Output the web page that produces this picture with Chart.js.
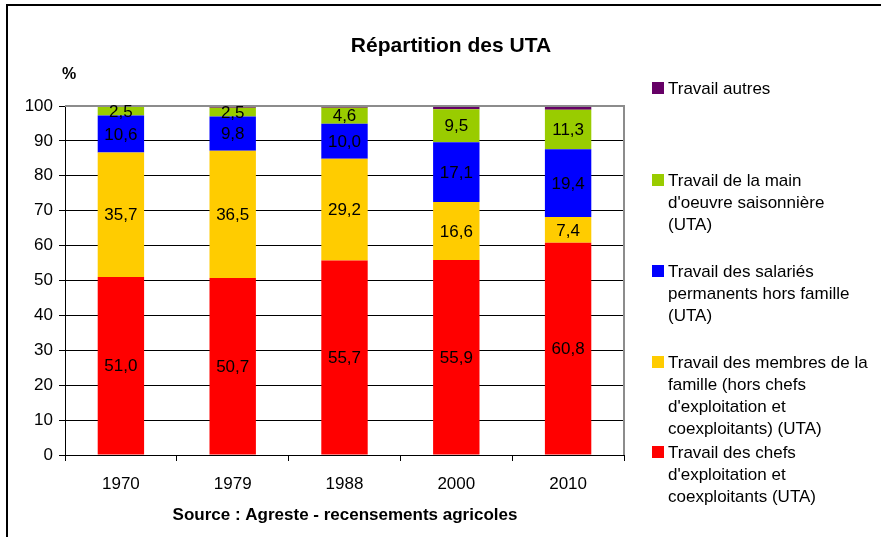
<!DOCTYPE html>
<html>
<head>
<meta charset="utf-8">
<script src="https://cdn.jsdelivr.net/npm/chart.js@4/dist/chart.umd.min.js"></script>
<style>
html,body{margin:0;padding:0;background:#fff;}
#wrap{position:relative;width:881px;height:537px;}
canvas{display:block;}
</style>
</head>
<body>
<div id="wrap"><canvas id="c" width="881" height="537"></canvas></div>
<script>
const years = ['1970', '1979', '1988', '2000', '2010'];
const chefs = [51.0, 50.7, 55.7, 55.9, 60.8];
const membres = [35.7, 36.5, 29.2, 16.6, 7.4];
const salaries = [10.6, 9.8, 10.0, 17.1, 19.4];
const saisonniers = [2.5, 2.5, 4.6, 9.5, 11.3];
const autres = [0.2, 0.5, 0.5, 0.9, 1.1];
const yTicks = [0, 10, 20, 30, 40, 50, 60, 70, 80, 90, 100];

const titleText = 'Répartition des UTA';
const unitText = '%';
const sourceText = 'Source : Agreste - recensements agricoles';

const nameChefs = ["Travail des chefs", "d'exploitation et", "coexploitants (UTA)"];
const nameMembres = ["Travail des membres de la", "famille (hors chefs", "d'exploitation et", "coexploitants) (UTA)"];
const nameSalaries = ["Travail des salariés", "permanents hors famille", "(UTA)"];
const nameSaison = ["Travail de la main", "d'oeuvre saisonnière", "(UTA)"];
const nameAutres = ["Travail autres"];

const FONT = "'Liberation Sans', Arial, sans-serif";

const datasets = [
  {label: nameChefs.join(' '), lines: nameChefs, data: chefs, backgroundColor: '#FF0000', showLabels: true},
  {label: nameMembres.join(' '), lines: nameMembres, data: membres, backgroundColor: '#FFCC00', showLabels: true},
  {label: nameSalaries.join(' '), lines: nameSalaries, data: salaries, backgroundColor: '#0000FF', showLabels: true},
  {label: nameSaison.join(' '), lines: nameSaison, data: saisonniers, backgroundColor: '#99CC00', showLabels: true},
  {label: nameAutres.join(' '), lines: nameAutres, data: autres, backgroundColor: '#660066', showLabels: false}
].map(d => Object.assign(d, {barPercentage: 0.415, categoryPercentage: 1.0, borderWidth: 0}));

// legend layout: first text line y for each dataset (index order)
const legendPos = {x: 652, textX: 668, lineH: 22, firstY: [452, 362, 271, 180, 88]};

const decor = {
  id: 'decor',
  beforeDraw(chart) {
    const ctx = chart.ctx;
    ctx.save();
    ctx.fillStyle = '#fff';
    ctx.fillRect(0, 0, chart.width, chart.height);
    ctx.strokeStyle = '#000';
    ctx.lineWidth = 2;
    ctx.beginPath();
    ctx.moveTo(7, 537);
    ctx.lineTo(7, 5);
    ctx.lineTo(881, 5);
    ctx.stroke();
    ctx.restore();
  },
  afterDatasetsDraw(chart) {
    const ctx = chart.ctx;
    const a = chart.chartArea;
    ctx.save();
    ctx.strokeStyle = '#8c8c8c';
    ctx.lineWidth = 2;
    ctx.beginPath();
    ctx.moveTo(a.left, a.top);
    ctx.lineTo(a.right, a.top);
    ctx.lineTo(a.right, a.bottom);
    ctx.stroke();
    ctx.fillStyle = '#000';
    ctx.font = '17px ' + FONT;
    ctx.textAlign = 'center';
    ctx.textBaseline = 'middle';
    chart.data.datasets.forEach((ds, i) => {
      if (!ds.showLabels) return;
      const meta = chart.getDatasetMeta(i);
      meta.data.forEach((bar, j) => {
        const v = ds.data[j];
        const yc = (bar.y + bar.base) / 2;
        ctx.fillText(v.toFixed(1).replace('.', ','), bar.x, yc + 1);
      });
    });
    ctx.font = 'bold 21px ' + FONT;
    ctx.fillText(titleText, 451, 46);
    ctx.font = 'bold 16px ' + FONT;
    ctx.fillText(unitText, 69, 75);
    ctx.font = 'bold 17px ' + FONT;
    ctx.fillText(sourceText, 345, 515);
    ctx.textAlign = 'left';
    ctx.font = '17px ' + FONT;
    chart.data.datasets.forEach((ds, i) => {
      const y0 = legendPos.firstY[i];
      ctx.fillStyle = ds.backgroundColor;
      ctx.fillRect(legendPos.x, y0 - 6, 12, 12);
      ctx.fillStyle = '#000';
      ds.lines.forEach((ln, k) => {
        ctx.fillText(ln, legendPos.textX, y0 + k * legendPos.lineH + 1);
      });
    });
    ctx.restore();
  }
};

new Chart(document.getElementById('c'), {
  type: 'bar',
  data: {labels: years, datasets},
  options: {
    responsive: false,
    animation: false,
    devicePixelRatio: 1,
    layout: {padding: {left: 0, right: 257, top: 106, bottom: 0}},
    plugins: {legend: {display: false}, title: {display: false}, tooltip: {enabled: false}},
    scales: {
      x: {
        stacked: true,
        afterFit(s) { s.height = 82; },
        grid: {display: true, drawOnChartArea: false, drawTicks: true, tickLength: 6, color: '#000', offset: true},
        border: {display: true, color: '#000', width: 1},
        ticks: {color: '#000', font: {family: FONT, size: 17}, padding: 13, maxRotation: 0}
      },
      y: {
        stacked: true,
        min: 0, max: 100,
        afterFit(s) { s.width = 65; },
        afterBuildTicks(s) { s.ticks = yTicks.map(v => ({value: v})); },
        grid: {color: '#000', lineWidth: 1, tickLength: 6, drawTicks: true},
        border: {display: true, color: '#000', width: 1},
        ticks: {color: '#000', font: {family: FONT, size: 17}, padding: 6}
      }
    }
  },
  plugins: [decor]
});
</script>
</body>
</html>
